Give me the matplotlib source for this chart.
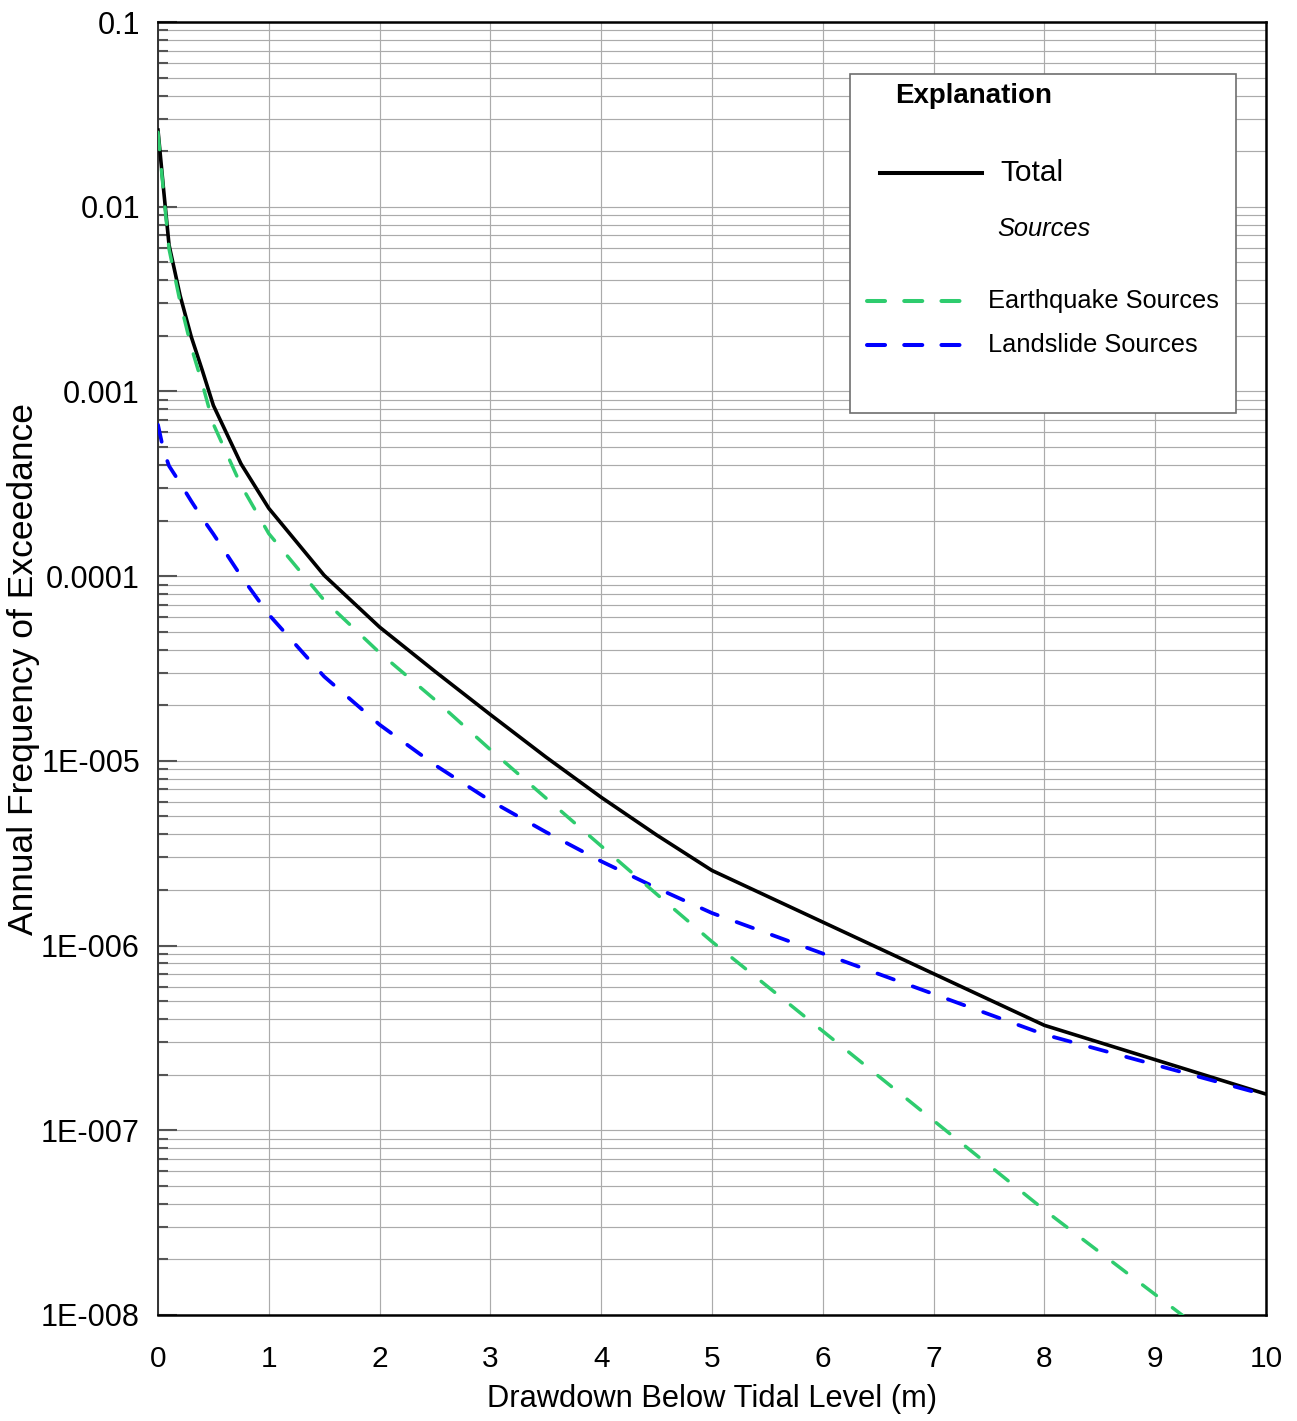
import matplotlib
matplotlib.use("Agg")
import matplotlib.pyplot as plt
from matplotlib.ticker import FixedLocator, FixedFormatter, LogLocator, NullFormatter
from matplotlib.lines import Line2D
from matplotlib.patches import Rectangle

plt.rcParams['font.family'] = ['Liberation Sans', 'DejaVu Sans']
plt.rcParams['lines.scale_dashes'] = False

# Drawdown (m) and annual frequency of exceedance for each curve
depth_total = [0, 0.05, 0.1, 0.2, 0.3, 0.4, 0.5, 0.75, 1, 1.5, 2, 2.5, 3, 3.5, 4, 4.5, 5, 8, 10]
freq_total = [2.6e-2, 1.25e-2, 6.2e-3, 3.3e-3, 1.98e-3, 1.3e-3, 8.4e-4, 4.05e-4, 2.33e-4,
              1.01e-4, 5.3e-5, 3.05e-5, 1.78e-5, 1.05e-5, 6.35e-6, 3.97e-6, 2.55e-6, 3.7e-7, 1.57e-7]

depth_eq = [0, 0.05, 0.1, 0.2, 0.3, 0.4, 0.5, 0.75, 1, 1.5, 2, 2.5, 3, 3.5, 4, 4.5, 5, 8, 10]
freq_eq = [2.53e-2, 1.2e-2, 5.9e-3, 3.05e-3, 1.74e-3, 1.1e-3, 6.65e-4, 3.1e-4, 1.7e-4,
           7.4e-5, 3.85e-5, 2.14e-5, 1.15e-5, 6.3e-6, 3.46e-6, 1.9e-6, 1.05e-6, 3.7e-8, 4.5e-9]

depth_ls = [0, 0.05, 0.1, 0.2, 0.3, 0.4, 0.5, 0.75, 1, 1.5, 2, 2.5, 3, 3.5, 4, 4.5, 5, 8, 10]
freq_ls = [6.6e-4, 4.8e-4, 3.95e-4, 3.19e-4, 2.55e-4, 2.06e-4, 1.69e-4, 1.0e-4, 6.2e-5,
           2.86e-5, 1.57e-5, 9.5e-6, 6.08e-6, 4.12e-6, 2.86e-6, 2.05e-6, 1.5e-6, 3.3e-7, 1.55e-7]

y_ticks = [1e-1, 1e-2, 1e-3, 1e-4, 1e-5, 1e-6, 1e-7, 1e-8]
y_tick_labels = ['0.1', '0.01', '0.001', '0.0001', '1E-005', '1E-006', '1E-007', '1E-008']
x_ticks = [0, 1, 2, 3, 4, 5, 6, 7, 8, 9, 10]
x_tick_labels = ['0', '1', '2', '3', '4', '5', '6', '7', '8', '9', '10']

GREEN = '#2ecc6e'
BLUE = '#0000ff'
GRID = '#ababab'
DASH = (0, (12.5, 14.5))

fig = plt.figure(figsize=(12.97, 14.21), dpi=100)
ax = fig.add_axes([0.1218, 0.0746, 0.8543, 0.9099])

ax.set_yscale('log')
ax.set_xlim(0, 10)
ax.set_ylim(1e-8, 1e-1)

ax.plot(depth_total, freq_total, color='black', lw=2.6, solid_joinstyle='round', zorder=3)
ax.plot(depth_ls, freq_ls, color=BLUE, lw=2.7, linestyle=DASH, dash_capstyle='round', zorder=4)
ax.plot(depth_eq, freq_eq, color=GREEN, lw=2.5, linestyle=DASH, dash_capstyle='round', zorder=5)

# axes, ticks, grid
ax.yaxis.set_major_locator(FixedLocator(y_ticks))
ax.yaxis.set_major_formatter(FixedFormatter(y_tick_labels))
ax.yaxis.set_minor_locator(LogLocator(base=10, subs=range(2, 10), numticks=40))
ax.yaxis.set_minor_formatter(NullFormatter())
ax.xaxis.set_major_locator(FixedLocator(x_ticks))
ax.xaxis.set_major_formatter(FixedFormatter(x_tick_labels))

ax.grid(True, which='both', axis='y', color=GRID, lw=0.85, zorder=0)
ax.grid(True, which='major', axis='x', color=GRID, lw=0.85, zorder=0)
ax.set_axisbelow(True)

ax.tick_params(axis='y', which='major', direction='in', length=14, width=1.5,
               color='#555555', pad=13, labelsize=22, left=True, right=False)
ax.tick_params(axis='y', which='minor', direction='in', length=7.5, width=1.5,
               color='#555555', left=True, right=False)
ax.tick_params(axis='x', which='both', length=0, pad=21.5, labelsize=21.5)

for side, spine in ax.spines.items():
    spine.set_linewidth(1.8)
    spine.set_color('black')
ax.spines['left'].set_color('#333333')
ax.spines['left'].set_linewidth(1.4)

ax.set_xlabel('Drawdown Below Tidal Level (m)', fontsize=22.2)
ax.set_ylabel('Annual Frequency of Exceedance', fontsize=25.5)
ax.xaxis.set_label_coords(0.5, -0.0535)
ax.yaxis.set_label_coords(-0.1065, 0.5)

# explanation box
T = ax.transAxes
ax.add_patch(Rectangle((0.6245, 0.6976), 0.3484, 0.2622, transform=T, facecolor='white',
                       edgecolor='#6e6e6e', lw=1.2, zorder=10))
ax.text(0.6652, 0.9428, 'Explanation', transform=T, fontsize=20, fontweight='bold',
        ha='left', va='center', zorder=11)
ax.add_line(Line2D([0.6516, 0.7437], [0.8832, 0.8832], transform=T, color='black', lw=2.9,
                   zorder=11))
ax.text(0.7599, 0.8832, 'Total', transform=T, fontsize=21.5, ha='left', va='center', zorder=11)
ax.text(0.7572, 0.8399, 'Sources', transform=T, fontsize=18.3, style='italic',
        ha='left', va='center', zorder=11)
ax.add_line(Line2D([0.6402, 0.7244], [0.7842, 0.7842], transform=T, color=GREEN, lw=2.9,
                   linestyle=(0, (13, 13.8)), dash_capstyle='round', zorder=11))
ax.text(0.7491, 0.7842, 'Earthquake Sources', transform=T, fontsize=18.3, ha='left',
        va='center', zorder=11)
ax.add_line(Line2D([0.6402, 0.7244], [0.7502, 0.7502], transform=T, color=BLUE, lw=2.9,
                   linestyle=(0, (13, 13.8)), dash_capstyle='round', zorder=11))
ax.text(0.7491, 0.7502, 'Landslide Sources', transform=T, fontsize=18.3, ha='left',
        va='center', zorder=11)

fig.savefig('out.png', dpi=100)
